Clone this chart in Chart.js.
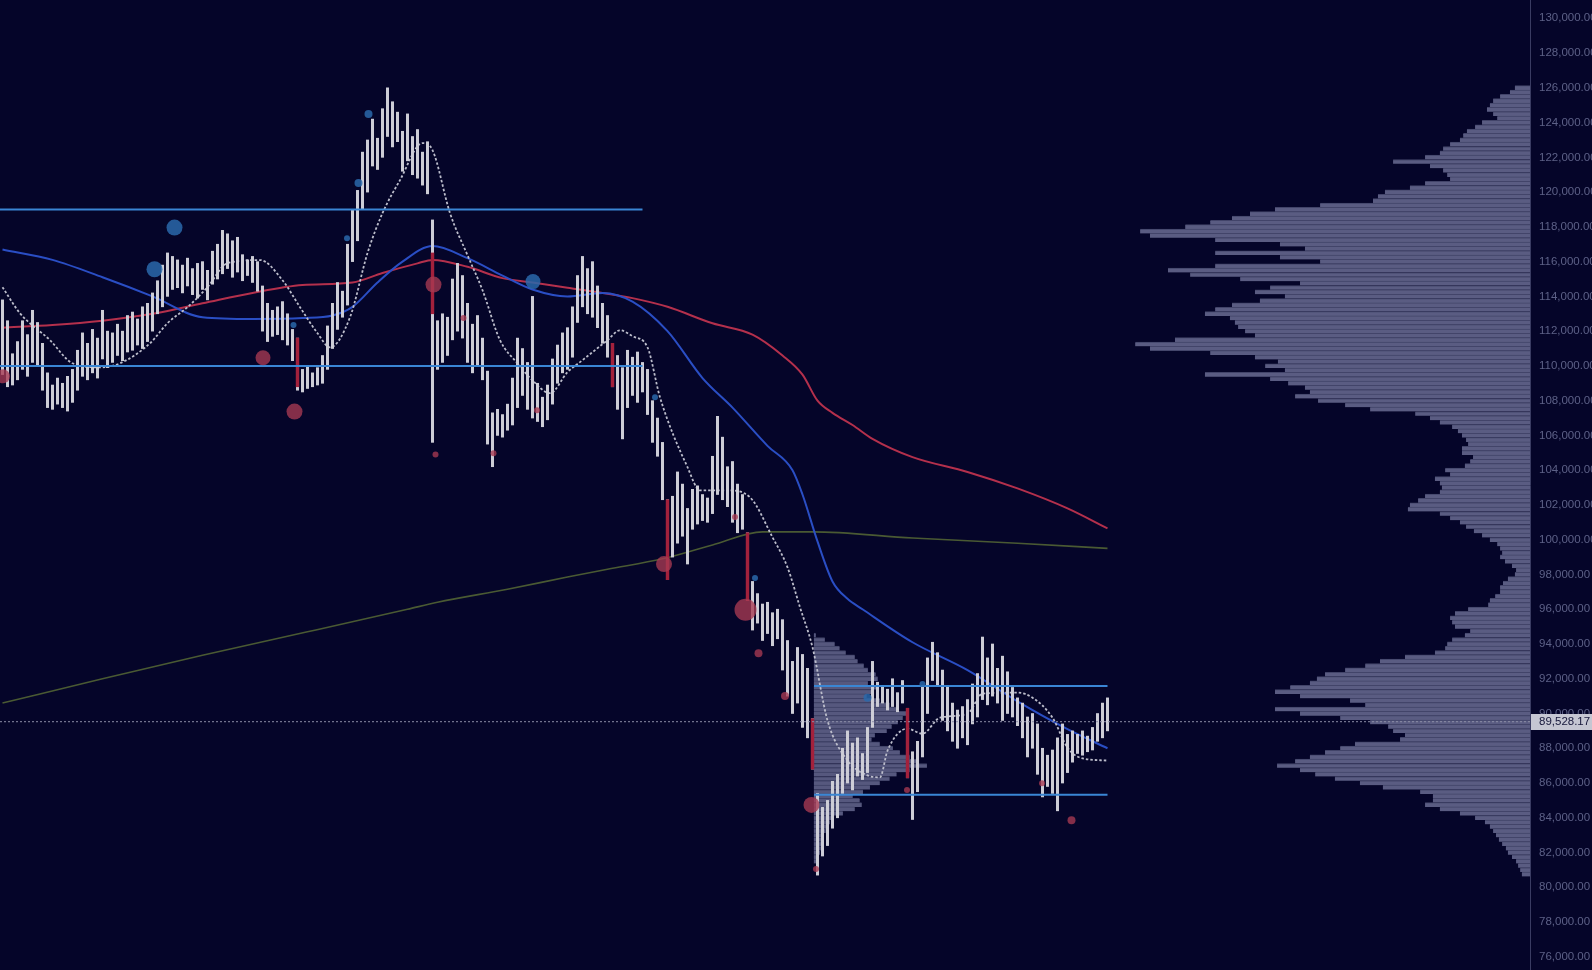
<!DOCTYPE html>
<html>
<head>
<meta charset="utf-8">
<script src="https://cdn.jsdelivr.net/npm/chart.js@4.4.1/dist/chart.umd.min.js"></script>
<style>
  html, body { margin: 0; padding: 0; background: #050529; overflow: hidden; }
  #wrap { width: 1620px; height: 970px; }
</style>
</head>
<body>
<div id="wrap"><canvas id="btc" width="1620" height="970"></canvas></div>
<script>
// prices in thousands of USD
var priceTicks = [76, 78, 80, 82, 84, 86, 88, 90, 92, 94, 96, 98, 100, 102, 104, 106, 108, 110, 112, 114, 116, 118, 120, 122, 124, 126, 128, 130];
var lastPrice = 89.52817;

// [low, high] per bar
var candles = [
  [109.5,113.8],[108.8,112.6],[108.9,110.7],[109.2,111.4],[109.8,112.6],[109.4,111.8],[110.2,113.2],[110.0,112.5],[108.6,111.3],[107.6,109.6],
  [107.5,108.9],[107.8,109.3],[107.6,109.0],[107.4,109.4],[107.9,109.8],[108.6,110.9],[109.4,111.9],[109.2,111.3],[109.6,112.1],[109.3,111.6],
  [110.4,113.2],[109.9,112.0],[110.2,111.9],[110.6,112.4],[110.3,112.0],[110.8,112.9],[110.9,113.1],[111.2,112.7],[111.0,113.4],[111.4,113.6],
  [112.0,114.2],[113.0,114.9],[113.4,115.8],[114.0,116.5],[114.4,116.3],[114.5,116.1],[114.2,115.8],[114.6,116.2],[114.1,115.6],[113.9,115.9],
  [114.4,116.0],[113.8,115.5],[114.7,116.6],[115.0,117.0],[115.3,117.8],[115.6,117.6],[115.1,117.2],[115.4,117.4],[114.9,116.4],[115.2,116.1],
  [114.8,116.3],[114.3,116.0],[112.0,114.6],[111.4,113.6],[111.7,113.2],[111.8,113.4],[111.5,113.7],[111.2,113.0],[110.3,112.1],[108.6,111.6],
  [108.5,109.8],[108.7,110.0],[108.8,109.6],[108.9,109.9],[109.0,110.6],[109.8,112.3],[111.0,113.6],[112.1,114.8],[112.8,114.3],[113.5,117.0],
  [116.0,119.0],[117.2,120.1],[119.0,122.3],[120.0,123.0],[121.5,124.2],[121.3,123.1],[122.0,124.8],[123.2,126.0],[122.6,125.2],[122.9,124.6],
  [121.2,123.5],[121.8,124.5],[121.0,123.2],[120.8,123.6],[120.4,122.3],[119.9,122.9],[105.6,118.4],[109.8,112.6],[110.2,113.0],[110.6,112.8],
  [111.5,115.0],[112.0,115.9],[111.6,115.2],[110.2,113.6],[109.6,112.4],[110.0,112.9],[109.2,111.6],[105.5,109.7],[104.2,107.3],[106.0,107.5],
  [105.9,107.2],[106.3,107.8],[106.6,109.3],[107.6,111.6],[108.3,111.0],[107.5,110.2],[107.0,114.0],[106.8,109.0],[106.5,108.2],[106.9,108.9],
  [107.8,110.4],[109.0,111.2],[109.6,111.9],[109.8,112.2],[110.5,113.4],[112.5,115.2],[113.4,116.3],[113.0,115.6],[112.8,116.0],[112.2,114.6],
  [111.3,113.6],[110.5,112.9],[108.8,111.3],[107.5,110.6],[105.8,109.9],[107.6,110.9],[108.3,110.5],[107.9,110.8],[108.5,110.2],[107.2,109.8],
  [105.6,108.0],[104.8,107.0],[102.3,105.6],[97.7,102.3],[99.0,102.5],[99.8,103.9],[100.2,103.2],[98.6,101.8],[100.6,102.9],[100.9,103.1],
  [101.1,102.6],[101.0,102.4],[101.5,104.8],[102.6,107.1],[102.3,105.9],[101.9,104.2],[101.0,104.5],[100.4,103.2],[100.6,102.6],[96.5,100.4],
  [94.8,97.6],[95.2,96.9],[94.2,96.3],[94.6,96.4],[93.9,95.8],[94.3,96.0],[92.5,95.4],[91.0,94.2],[90.0,93.0],[90.6,93.8],
  [89.2,93.4],[88.6,92.6],[86.8,89.7],[80.7,85.4],[81.8,84.6],[82.4,85.0],[83.4,86.1],[84.0,86.5],[85.4,88.0],[86.0,89.0],
  [85.6,88.3],[86.4,88.6],[86.2,87.7],[86.6,89.2],[89.2,93.0],[90.4,91.8],[90.6,91.6],[90.2,91.4],[90.4,92.0],[90.1,91.2],
  [90.6,91.9],[86.3,90.3],[83.9,87.8],[85.5,88.4],[87.5,91.6],[90.0,93.2],[91.9,94.1],[91.6,93.5],[89.6,92.5],[89.0,91.6],
  [88.4,90.6],[88.0,90.2],[88.6,90.4],[88.2,90.8],[89.4,91.7],[89.8,92.3],[90.8,94.4],[90.5,93.2],[91.0,94.0],[90.6,92.6],
  [89.6,93.3],[90.0,92.4],[89.8,91.5],[89.3,90.9],[88.6,90.6],[87.5,89.8],[88.0,90.0],[86.5,89.4],[85.2,88.0],[85.8,87.6],
  [85.4,87.9],[84.4,88.6],[86.0,89.4],[86.6,88.8],[87.2,89.0],[87.7,88.8],[87.6,89.0],[87.8,88.7],[87.9,89.2],[88.4,90.0],
  [88.6,90.6],[89.0,90.9]
];

// big red candles (bar index, body low, body high)
var redIdx = [59, 86, 122, 133, 149, 162, 181];
var redLow = [108.8, 113.0, 108.8, 97.7, 96.5, 86.8, 86.3];
var redHigh = [111.6, 116.5, 111.3, 102.3, 100.4, 89.7, 90.3];

// moving averages
var blueIdx = [0, 10, 20, 30, 40, 50, 60, 66, 70, 75, 80, 86, 93, 100, 106, 113, 120, 126, 133, 140, 146, 153, 158, 160, 163, 166, 169, 172, 182, 193, 203, 213, 221];
var blueMA = [116.7, 116.1, 115.1, 114.0, 112.8, 112.7, 112.75, 112.9, 113.4, 114.8, 116.0, 116.9, 116.2, 115.2, 114.4, 114.0, 114.2, 113.7, 112.0, 109.3, 107.6, 105.4, 104.0, 102.6, 99.9, 97.6, 96.6, 96.0, 94.1, 92.5, 90.7, 89.1, 88.0];

var redMAIdx = [0, 10, 20, 30, 40, 50, 60, 70, 76, 83, 86, 93, 100, 106, 113, 120, 126, 133, 142, 150, 156, 160, 163, 166, 170, 174, 182, 193, 203, 213, 221];
var redMA = [112.2, 112.35, 112.6, 113.0, 113.6, 114.2, 114.65, 114.8, 115.35, 115.9, 116.1, 115.7, 115.05, 114.8, 114.5, 114.2, 113.9, 113.4, 112.45, 111.8, 110.6, 109.5, 108.0, 107.3, 106.6, 105.8, 104.75, 103.9, 102.95, 101.8, 100.65];

var greenIdx = [0, 20, 40, 61, 81, 87, 101, 113, 121, 132, 142, 152, 162, 182, 203, 221];
var greenMA = [90.6, 92.0, 93.35, 94.7, 96.0, 96.4, 97.15, 97.85, 98.3, 98.9, 99.7, 100.45, 100.45, 100.1, 99.8, 99.5];

var whiteIdx = [0, 3.5, 9.5, 14, 19.5, 23.5, 29.5, 33, 37, 41, 45, 51.5, 56, 59.5, 63, 65.5, 69.5, 73, 76, 79.5,
  84, 86, 89.5, 93, 96, 99.5, 103, 106, 109.5, 113, 116, 121, 123.5, 126, 129, 131.5, 137, 139.5, 145, 149.5,
  154, 157, 159.5, 162, 165, 169, 173, 175.5, 177, 181, 184, 187.5, 193, 196, 203, 206, 210, 213, 215.5, 221];
var whiteMA = [114.53, 113.03, 111.48, 110.15, 109.92, 110.15, 111.3, 112.46, 113.38, 114.53, 115.91, 116.09, 114.93, 113.38, 111.88, 111.07, 112.8, 116.49, 118.79, 120.69,
  122.82, 122.42, 118.79, 116.37, 114.36, 111.48, 110.15, 109.17, 108.43, 109.64, 110.33, 111.48, 112.05, 111.71, 111.07, 108.19, 104.17, 102.84, 102.84, 102.44,
  100.14, 98.41, 96.11, 93.81, 89.6, 87.3, 86.44, 86.33, 87.86, 89.13, 88.84, 89.76, 89.99, 91.14, 91.2, 90.91, 89.76, 88.04, 87.46, 87.29];

// horizontal range levels
var levelPrice = [119.0, 110.0, 91.58, 85.33];
var levelFrom = [-0.5, -0.5, 162.3, 162.3];
var levelTo = [128, 128, 221, 221];

// large trade bubbles
var sellIdx = [0.1, 52.1, 58.4, 86.2, 86.6, 92.2, 98.2, 106.9, 132.3, 146.5, 148.6, 151.2, 156.5, 161.8, 162.7, 180.9, 207.9, 213.8];
var sellPrice = [109.4, 110.47, 107.37, 114.68, 104.9, 112.75, 104.98, 107.45, 98.6, 101.3, 95.97, 93.46, 91.0, 84.74, 81.05, 85.6, 85.98, 83.86];
var sellSize = [7, 7.5, 8, 8, 3, 3, 3, 3, 8, 3, 11, 4, 4, 8, 3, 3, 3, 4];
var buyIdx = [30.4, 34.4, 58.2, 68.9, 71.2, 73.2, 106.1, 130.5, 150.5, 173, 184];
var buyPrice = [115.56, 117.96, 112.35, 117.35, 120.53, 124.5, 114.85, 108.2, 97.8, 90.9, 91.7];
var buySize = [8, 8, 3, 3, 4, 4, 7.5, 3, 3, 4, 3];

// visible range volume profile, bins of 250 from 126,000 down
var profileTop = 126.0;
var binSize = 0.25;
var profileVol = [
  3.7, 4.9, 7.3, 9.0, 9.8, 10.5, 9.0, 8.0, 11.7, 13.4, 15.4, 16.3, 17.1, 19.5, 21.2, 22.0, 25.6, 33.4, 24.4, 21.2,
  20.2, 19.5, 25.6, 29.3, 35.4, 37.1, 38.3, 51.2, 62.2, 68.3, 72.7, 78.0, 84.1, 95.1, 92.7, 76.8, 61.0, 54.9, 76.8, 61.0,
  51.2, 76.8, 88.3, 82.9, 70.7, 56.1, 63.4, 67.1, 59.8, 65.9, 72.7, 76.8, 79.3, 73.2, 72.0, 71.2, 69.5, 67.1, 86.6, 96.3,
  92.7, 78.0, 67.1, 61.5, 64.6, 59.8, 79.3, 63.4, 59.0, 54.9, 53.7, 57.3, 51.7, 45.1, 39.0, 28.0, 24.4, 22.0, 19.0, 17.6,
  16.6, 15.6, 15.1, 16.6, 16.6, 13.9, 14.6, 15.9, 20.7, 19.5, 23.2, 22.0, 21.5, 22.0, 25.6, 27.3, 29.3, 29.8, 22.0, 19.5,
  17.1, 15.6, 13.7, 11.7, 9.8, 8.0, 7.3, 6.8, 7.3, 6.1, 4.4, 3.4, 3.7, 5.4, 6.6, 7.3, 7.3, 8.5, 9.8, 10.2,
  15.1, 18.3, 19.5, 19.0, 18.3, 14.6, 15.9, 19.0, 20.2, 20.7, 23.2, 30.5, 36.6, 40.2, 45.1, 50.0, 52.0, 53.7, 58.5, 62.2,
  56.1, 43.9, 40.2, 62.2, 56.1, 46.3, 39.0, 34.6, 33.4, 30.5, 31.7, 42.7, 46.3, 50.0, 53.7, 57.3, 61.7, 56.1, 52.4, 47.6,
  41.5, 35.9, 26.8, 23.7, 23.7, 25.6, 22.0, 17.1, 13.4, 11.0, 9.8, 9.0, 8.3, 7.6, 6.8, 5.9, 5.4, 4.4, 3.4, 2.9,
  2.4, 2.0
];

// session volume profile, bins of 250 from 94,500 down
var sessionTop = 94.5;
var sessionVol = [
  0.5, 2.7, 5.1, 6.3, 7.8, 10.0, 10.7, 12.2, 13.2, 15.1, 15.6, 13.2, 15.4, 14.1, 12.9, 16.1, 18.5, 20.2, 22.7, 21.7,
  20.5, 19.0, 17.8, 14.9, 14.1, 16.1, 19.3, 21.0, 23.4, 25.4, 27.6, 23.4, 20.2, 18.5, 16.1, 13.7, 12.0, 9.5, 11.2, 11.7,
  10.0, 7.1, 4.9, 3.9, 3.2, 2.9, 2.4, 2.2, 2.0, 1.7, 1.5, 1.2, 1.0
];

function fmt(v) {
  return (v * 1000).toLocaleString('en-US', { minimumFractionDigits: 2, maximumFractionDigits: 2 });
}
function pts(xs, ys) {
  return xs.map(function (x, i) { return { x: x, y: ys[i] }; });
}

var bgPlugin = {
  id: 'bg',
  beforeDraw: function (chart) {
    var c = chart.ctx;
    c.save();
    c.fillStyle = '#050529';
    c.fillRect(0, 0, chart.width, chart.height);
    c.restore();
  }
};

var priceTag = {
  id: 'priceTag',
  afterDraw: function (chart) {
    var y = chart.scales.y.getPixelForValue(lastPrice);
    var x = chart.chartArea.right + 1;
    var c = chart.ctx;
    c.save();
    c.fillStyle = '#c5c6d2';
    c.fillRect(x, Math.round(y) - 8, 90, 16);
    c.fillStyle = '#15163a';
    c.font = '11.5px "Liberation Sans"';
    c.textBaseline = 'middle';
    c.fillText(fmt(lastPrice), x + 8, y + 0.5);
    c.restore();
  }
};

var datasets = [];

datasets.push({
  type: 'bar', indexAxis: 'y', xAxisID: 'xp', yAxisID: 'y', order: 20, grouped: false,
  data: profileVol.map(function (v, i) { return { x: v, y: profileTop - i * binSize }; }),
  backgroundColor: '#5a5c82', borderColor: '#424469',
  borderWidth: { top: 1, right: 0, bottom: 0, left: 0 }, borderSkipped: false,
  barThickness: 4.35
});

datasets.push({
  type: 'bar', indexAxis: 'y', xAxisID: 'xs', yAxisID: 'y', order: 19, grouped: false,
  data: sessionVol.map(function (v, i) { return { x: v, y: sessionTop - i * binSize }; }),
  backgroundColor: '#56587e', borderColor: '#3e4066',
  borderWidth: { top: 1, right: 0, bottom: 0, left: 0 }, borderSkipped: false,
  barThickness: 4.35
});

datasets.push({
  type: 'line', xAxisID: 'x', yAxisID: 'y', order: 15,
  data: pts(greenIdx, greenMA), borderColor: '#4a5a33', borderWidth: 1.6,
  pointRadius: 0, cubicInterpolationMode: 'monotone'
});
datasets.push({
  type: 'line', xAxisID: 'x', yAxisID: 'y', order: 14,
  data: pts(redMAIdx, redMA), borderColor: '#b4304c', borderWidth: 2,
  pointRadius: 0, cubicInterpolationMode: 'monotone'
});
datasets.push({
  type: 'line', xAxisID: 'x', yAxisID: 'y', order: 13,
  data: pts(blueIdx, blueMA), borderColor: '#2a4ec4', borderWidth: 2,
  pointRadius: 0, cubicInterpolationMode: 'monotone'
});
datasets.push({
  type: 'line', xAxisID: 'x', yAxisID: 'y', order: 12,
  data: pts(whiteIdx, whiteMA), borderColor: '#bcbdcb', borderWidth: 1.8, borderDash: [2.5, 2],
  pointRadius: 0, cubicInterpolationMode: 'monotone'
});

datasets.push({
  type: 'bar', xAxisID: 'x', yAxisID: 'y', order: 10, grouped: false,
  data: candles.map(function (c, i) { return { x: i, y: c }; }),
  backgroundColor: '#cdcdd6', barThickness: 2.3, borderWidth: 0
});
datasets.push({
  type: 'bar', xAxisID: 'x', yAxisID: 'y', order: 9, grouped: false,
  data: redIdx.map(function (x, i) { return { x: x, y: [redLow[i], redHigh[i]] }; }),
  backgroundColor: '#a3213c', barThickness: 2.8, borderWidth: 0
});

levelPrice.forEach(function (p, i) {
  datasets.push({
    type: 'line', xAxisID: 'x', yAxisID: 'y', order: 5,
    data: [{ x: levelFrom[i], y: p }, { x: levelTo[i], y: p }],
    borderColor: '#3a86d4', borderWidth: 2, pointRadius: 0
  });
});

datasets.push({
  type: 'line', xAxisID: 'x', yAxisID: 'y', order: 4,
  data: [{ x: -0.5, y: lastPrice }, { x: 305.5, y: lastPrice }],
  borderColor: '#8d8fa8', borderWidth: 1, borderDash: [2, 2], pointRadius: 0
});

datasets.push({
  type: 'bubble', xAxisID: 'x', yAxisID: 'y', order: 2,
  data: sellIdx.map(function (x, i) { return { x: x, y: sellPrice[i], r: sellSize[i] }; }),
  backgroundColor: 'rgba(168, 58, 82, 0.78)', borderWidth: 0
});
datasets.push({
  type: 'bubble', xAxisID: 'x', yAxisID: 'y', order: 1,
  data: buyIdx.map(function (x, i) { return { x: x, y: buyPrice[i], r: buySize[i] }; }),
  backgroundColor: 'rgba(42, 104, 170, 0.85)', borderWidth: 0
});

new Chart(document.getElementById('btc'), {
  type: 'bar',
  data: { datasets: datasets },
  options: {
    responsive: false,
    devicePixelRatio: 1,
    animation: false,
    events: [],
    layout: { padding: 0, autoPadding: false },
    plugins: { legend: { display: false }, tooltip: { enabled: false } },
    scales: {
      x: { type: 'linear', min: -0.5, max: 305.5, display: false, offset: false },
      xp: { type: 'linear', reverse: true, min: 0, max: 373.2, display: false, offset: false },
      xs: { type: 'linear', min: -198.5, max: 174.7, display: false, offset: false },
      y: {
        type: 'linear', position: 'right', min: 75.242, max: 131.053, offset: false,
        grid: { display: false, drawTicks: false, offset: false },
        border: { display: true, color: '#3a3c62', width: 1 },
        ticks: {
          color: '#5d6187', padding: 9,
          font: { family: 'Liberation Sans', size: 11.5 },
          callback: function (v) { return fmt(v); }
        },
        afterBuildTicks: function (s) { s.ticks = priceTicks.map(function (v) { return { value: v }; }); },
        afterFit: function (s) { s.width = 90; s.paddingTop = 0; s.paddingBottom = 0; }
      }
    }
  },
  plugins: [bgPlugin, priceTag]
});
</script>
</body>
</html>
